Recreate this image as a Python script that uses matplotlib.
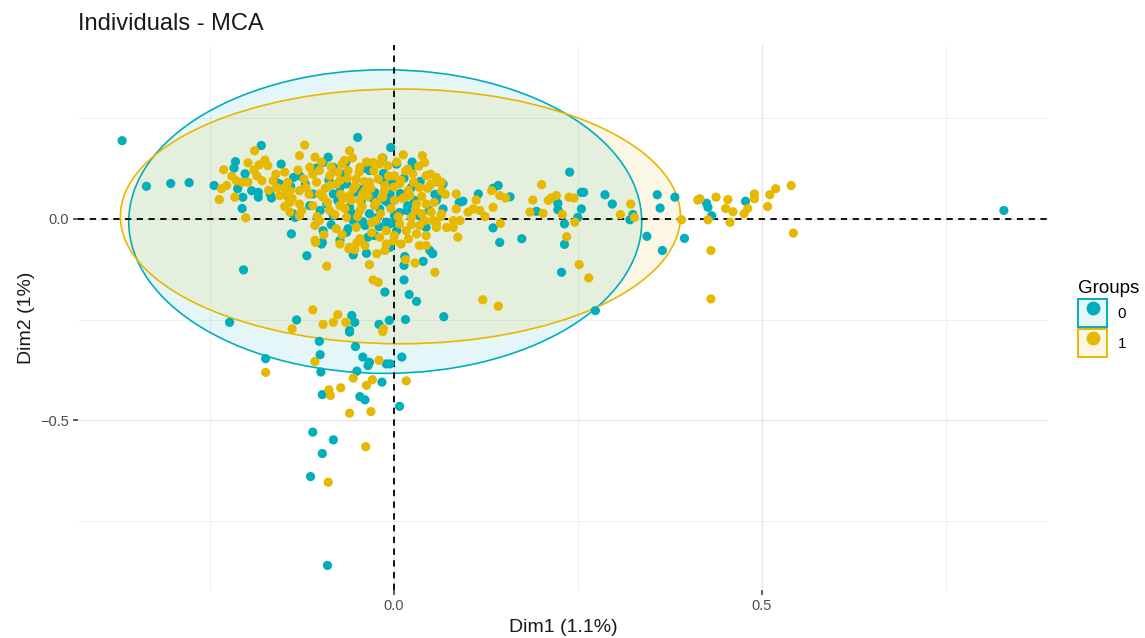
import matplotlib.pyplot as plt
from matplotlib.colors import to_rgb
from matplotlib.patches import Ellipse, Patch
from matplotlib.lines import Line2D
from matplotlib.legend_handler import HandlerTuple

plt.rcParams['font.family'] = ['Liberation Sans', 'DejaVu Sans']

TEAL = "#00AFBB"
GOLD = "#E7B800"

# individual coordinates on the first two MCA dimensions, group "0"
grp0_x = [-0.369, -0.336, -0.303, -0.278, 0.829, -0.090, -0.110, -0.082, -0.097, -0.113,
          -0.060, -0.101, -0.052, -0.174, -0.100, -0.099, -0.042, -0.033, -0.035, -0.010,
          -0.005, 0.011, -0.050, -0.016, -0.097, -0.046, -0.039, 0.008, -0.139, -0.118,
          -0.204, -0.097, -0.055, -0.037, -0.005, -0.012, -0.132, -0.057, -0.053, -0.060,
          -0.020, -0.006, 0.016, -0.223, 0.014, 0.014, 0.021, 0.031, 0.040, 0.053,
          0.068, 0.015, 0.049, 0.239, 0.142, 0.135, 0.158, 0.115, 0.089, 0.094,
          0.135, 0.144, 0.174, 0.194, 0.223, 0.223, 0.232, 0.255, 0.258, 0.255,
          0.250, 0.232, 0.228, 0.274, 0.287, 0.297, 0.325, 0.321, 0.358, 0.362,
          0.382, 0.344, 0.365, 0.395, 0.425, 0.427, 0.432, 0.478, -0.180, -0.244,
          -0.215, -0.217, -0.153, -0.136, -0.202, -0.212, -0.193, -0.184, -0.168, -0.155,
          -0.141, -0.205, -0.184, -0.166, -0.206, -0.134, -0.049, -0.004, -0.089, -0.096,
          -0.082, -0.033, 0.004, 0.067, 0.063, 0.024, -0.015, -0.064, -0.148, -0.110,
          -0.082, -0.053, -0.026, -0.005, 0.019, 0.058, 0.067, -0.010, -0.005, -0.033,
          -0.060, -0.091, -0.137, -0.096, -0.064, -0.035, -0.098, 0.044, -0.033, -0.073,
          -0.128, -0.044, -0.019, -0.082, -0.055, 0.023, 0.065, 0.001, 0.008, -0.012,
          -0.039, -0.073, 0.035, -0.114, -0.026,
          -0.120, -0.105, -0.088, -0.076, -0.068, -0.058, -0.045, -0.040, -0.028, -0.022,
          -0.014, -0.008, -0.002, 0.003, 0.009, 0.014, 0.018, 0.028, 0.036, 0.048,
          0.056, -0.100, -0.085, -0.062, -0.042, -0.020, 0.004, -0.140, -0.160, -0.015,
          -0.065, 0.025]
grp0_y = [0.193, 0.080, 0.087, 0.089, 0.020, -0.859, -0.529, -0.548, -0.582, -0.639,
          -0.281, -0.304, -0.317, -0.347, -0.337, -0.380, -0.343, -0.356, -0.364, -0.360,
          -0.360, -0.343, -0.378, -0.405, -0.436, -0.441, -0.449, -0.465, -0.038, -0.092,
          -0.127, -0.059, -0.090, -0.086, -0.071, -0.182, -0.251, -0.240, -0.257, -0.277,
          -0.262, -0.252, -0.250, -0.257, -0.116, -0.152, -0.188, -0.205, -0.106, -0.087,
          -0.243, -0.094, -0.079, 0.115, 0.082, 0.075, 0.054, 0.061, 0.040, 0.043,
          -0.023, -0.059, -0.050, 0.018, 0.038, 0.022, -0.013, 0.065, 0.065, 0.024,
          0.003, -0.064, -0.133, -0.228, 0.059, 0.036, 0.010, -0.003, 0.059, 0.026,
          0.053, -0.044, -0.079, -0.049, 0.038, 0.028, 0.007, 0.043, 0.181, 0.082,
          0.141, 0.125, 0.135, 0.102, 0.111, 0.074, 0.069, 0.065, 0.061, 0.086,
          0.045, 0.053, 0.053, 0.051, 0.025, 0.003, 0.201, 0.176, 0.152, 0.139,
          0.127, 0.135, 0.135, 0.086, 0.061, 0.077, 0.094, 0.086, 0.077, 0.061,
          0.061, 0.065, 0.065, 0.061, 0.032, 0.045, 0.024, -0.009, -0.013, 0.012,
          0.028, 0.036, 0.012, -0.030, -0.034, -0.046, -0.063, -0.022, 0.119, 0.077,
          0.106, 0.045, 0.024, 0.007, -0.005, 0.123, 0.065, 0.007, 0.015, 0.045,
          -0.017, -0.054, 0.007, 0.032, -0.042,
          0.085, 0.125, 0.095, 0.045, 0.110, 0.015, 0.072, 0.125, 0.050, 0.003,
          0.112, 0.040, 0.088, -0.005, 0.062, 0.100, 0.020, 0.045, 0.092, 0.020,
          0.060, 0.020, -0.015, -0.025, -0.008, -0.020, -0.030, 0.080, 0.090, 0.150,
          0.140, 0.140]

# group "1"
grp1_x = [-0.015, -0.174, -0.107, -0.020, -0.055, -0.029, -0.037, 0.017, -0.072, -0.088,
          -0.086, -0.060, -0.031, -0.038, -0.089, -0.091, -0.106, -0.073, -0.061, -0.053,
          -0.023, -0.033, -0.012, -0.028, -0.021, -0.110, -0.138, -0.096, -0.082, -0.076,
          -0.065, -0.014, 0.029, 0.056, 0.016, 0.035, 0.044, 0.010, 0.058, 0.201,
          0.133, 0.144, 0.152, 0.112, 0.085, 0.135, 0.108, 0.101, 0.117, 0.124,
          0.090, 0.081, 0.087, 0.145, 0.189, 0.185, 0.203, 0.210, 0.221, 0.214,
          0.229, 0.238, 0.245, 0.246, 0.235, 0.252, 0.265, 0.121, 0.142, 0.308,
          0.322, 0.327, 0.391, 0.413, 0.540, 0.519, 0.511, 0.508, 0.490, 0.490,
          0.481, 0.476, 0.461, 0.454, 0.451, 0.457, 0.438, 0.427, 0.416, 0.543,
          0.431, 0.431, 0.065, 0.049, 0.085, 0.081, 0.065, 0.013, 0.039, 0.042,
          -0.237, -0.231, -0.198, -0.183, -0.171, -0.148, -0.186, -0.214, -0.206, -0.198,
          -0.227, -0.234, -0.164, -0.159, -0.148, -0.141, -0.216, -0.146, -0.148, -0.141,
          -0.201, -0.121, -0.107, -0.067, -0.114, -0.101, -0.076, -0.062, -0.046, -0.028,
          -0.019, -0.008, 0.019, 0.026, 0.044, 0.058, 0.065, 0.051, 0.035, 0.008,
          -0.033, -0.051, -0.087, -0.105, -0.119, -0.144, -0.096, -0.069, -0.042, -0.015,
          0.001, 0.015, 0.031, 0.044, 0.051, 0.038, 0.024, 0.008, -0.024, -0.046,
          -0.073, -0.110, -0.128, -0.141, -0.101, -0.078, -0.051, -0.046, -0.019, -0.010,
          -0.107, -0.060, 0.031, 0.044, 0.058, 0.072, 0.017, 0.053, -0.055, -0.128,
          -0.101, -0.087, -0.064, -0.039, 0.001, -0.026, -0.060, 0.022, -0.073, -0.046,
          -0.128, -0.087, -0.012, 0.035, 0.001, -0.039, -0.107, -0.155, -0.179, -0.189,
          -0.128, -0.060,
          -0.130, -0.122, -0.115, -0.110, -0.098, -0.093, -0.090, -0.085, -0.080, -0.078,
          -0.072, -0.070, -0.066, -0.063, -0.058, -0.056, -0.052, -0.049, -0.047, -0.043,
          -0.040, -0.037, -0.035, -0.031, -0.030, -0.027, -0.024, -0.021, -0.018, -0.016,
          -0.013, -0.010, -0.007, -0.004, 0.000, 0.004, 0.006, 0.010, 0.012, 0.016,
          0.020, 0.024, 0.027, 0.030, 0.034, 0.038, 0.042, 0.046, 0.050, 0.055,
          0.060, 0.064, 0.070, -0.138, -0.125, -0.104, -0.095, -0.070, -0.050, -0.030,
          0.000, 0.020, -0.160, -0.170, -0.190, -0.220, -0.175]
grp1_y = [-0.280, -0.381, -0.354, -0.351, -0.395, -0.399, -0.413, -0.402, -0.419, -0.424,
          -0.438, -0.482, -0.478, -0.565, -0.653, -0.118, -0.059, -0.063, -0.075, -0.077,
          -0.087, -0.114, -0.079, -0.152, -0.158, -0.226, -0.273, -0.262, -0.257, -0.238,
          -0.257, -0.273, -0.110, -0.133, -0.102, -0.067, -0.067, -0.063, -0.013, 0.084,
          0.069, 0.057, 0.051, 0.046, 0.061, 0.028, 0.024, 0.016, 0.020, 0.005,
          -0.005, -0.022, -0.046, -0.012, 0.046, 0.016, 0.013, 0.045, 0.057, 0.051,
          0.010, 0.053, 0.051, -0.009, -0.045, -0.114, -0.147, -0.201, -0.217, 0.010,
          0.036, 0.003, -0.003, 0.046, 0.082, 0.074, 0.059, 0.030, 0.061, 0.049,
          0.025, 0.012, 0.017, 0.047, 0.025, -0.009, 0.053, -0.003, 0.049, -0.036,
          -0.079, -0.199, 0.090, 0.082, 0.024, -0.005, 0.012, 0.158, 0.156, 0.139,
          0.047, 0.121, 0.138, 0.133, 0.131, 0.115, 0.106, 0.094, 0.090, 0.090,
          0.082, 0.074, 0.094, 0.077, 0.077, 0.069, 0.053, 0.057, 0.030, 0.016,
          0.002, 0.182, 0.152, 0.144, 0.127, 0.119, 0.115, 0.119, 0.127, 0.139,
          0.135, 0.131, 0.123, 0.111, 0.106, 0.102, 0.069, 0.086, 0.077, 0.086,
          0.090, 0.098, 0.082, 0.090, 0.077, 0.090, 0.053, 0.049, 0.061, 0.053,
          0.045, 0.053, 0.036, 0.036, 0.016, 0.012, 0.003, -0.013, -0.005, 0.020,
          0.032, 0.032, 0.036, 0.040, -0.005, -0.025, -0.022, -0.050, -0.046, -0.063,
          -0.054, -0.071, -0.038, -0.042, -0.022, -0.022, -0.030, -0.005, 0.074, 0.069,
          0.061, 0.020, 0.003, 0.069, 0.106, 0.032, 0.057, 0.057, 0.094, 0.045,
          0.007, 0.106, 0.082, -0.017, -0.042, -0.067, -0.017, 0.057, 0.094, 0.168,
          0.156, 0.168,
          0.120, 0.098, 0.060, 0.110, 0.140, 0.075, 0.040, 0.128, 0.010, 0.085,
          0.060, 0.135, 0.025, 0.100, 0.045, 0.150, 0.082, 0.005, 0.115, 0.030,
          0.092, 0.140, 0.055, 0.075, -0.010, 0.118, 0.040, 0.098, 0.012, 0.150,
          0.068, -0.030, 0.105, 0.025, 0.078, 0.140, 0.005, 0.095, 0.050, 0.118,
          0.070, -0.015, 0.090, 0.020, 0.130, 0.055, -0.005, 0.075, 0.110, 0.040,
          0.090, 0.005, 0.060, 0.050, 0.020, 0.005, -0.040, -0.040, -0.060, -0.035,
          -0.055, -0.050, 0.110, 0.070, 0.120, 0.105, 0.145]

# concentration ellipses: centre, full width, full height
ell0 = dict(center=(-0.0115, -0.0074), width=0.697, height=0.752)
ell1 = dict(center=(0.0091, 0.0054), width=0.761, height=0.631)

group_labels = ["0", "1"]

fig = plt.figure(figsize=(11.45, 6.38), dpi=100)
ax = fig.add_axes([0.0681, 0.0752, 0.8472, 0.8543])

ax.set_xlim(-0.429, 0.889)
ax.set_ylim(-0.92, 0.43)
ax.set_xticks([0.0, 0.5])
ax.set_yticks([-0.5, 0.0])
ax.set_xticks([-0.25, 0.25, 0.75], minor=True)
ax.set_yticks([-0.75, -0.25, 0.25], minor=True)
ax.set_xticklabels(["0.0", "0.5"])
ax.set_yticklabels(["\u22120.5", "0.0"])
ax.grid(which="major", color="#e6e6e6", linewidth=0.9)
ax.grid(which="minor", color="#ececec", linewidth=0.6)
ax.set_axisbelow(True)
for s in ax.spines.values():
    s.set_visible(False)
ax.tick_params(which="major", length=3.5, width=1.1, color="#333333",
               labelcolor="#4d4d4d", labelsize=10.5, pad=3)
ax.tick_params(which="minor", length=0)

# ellipses (fill then outline)
for e, c in [(ell0, TEAL), (ell1, GOLD)]:
    ax.add_patch(Ellipse(e["center"], e["width"], e["height"],
                         facecolor=c, alpha=0.1, edgecolor="none", zorder=1))
    ax.add_patch(Ellipse(e["center"], e["width"], e["height"],
                         facecolor="none", edgecolor=c, linewidth=1.2, zorder=1.5))

ax.axhline(0, color="black", linestyle=(0, (3.5, 3)), linewidth=1.3, zorder=2)
ax.axvline(0, color="black", linestyle=(0, (3.5, 3)), linewidth=1.3, zorder=2)

ax.scatter(grp0_x, grp0_y, s=44, color=TEAL, edgecolors="none", zorder=3)
ax.scatter(grp1_x, grp1_y, s=44, color=GOLD, edgecolors="none", zorder=3)

ax.set_xlabel("Dim1 (1.1%)", fontsize=14, color="#1a1a1a", labelpad=4)
ax.set_ylabel("Dim2 (1%)", fontsize=14, color="#1a1a1a", labelpad=4)
fig.text(0.0681, 0.963, "Individuals - MCA", fontsize=17, color="#1a1a1a",
         ha="left", va="center")

handles = []
for c in [TEAL, GOLD]:
    box = Patch(facecolor=(*to_rgb(c), 0.1), edgecolor=c, linewidth=1.4)
    dot = Line2D([], [], marker="o", linestyle="none", markersize=10,
                 markerfacecolor=c, markeredgecolor="none")
    handles.append((box, dot))
leg = fig.legend(handles, group_labels, title="Groups", loc="upper left",
                 bbox_to_anchor=(1078 / 1145, 1 - 280 / 638), frameon=False,
                 handler_map={tuple: HandlerTuple(ndivide=1, pad=0)},
                 handlelength=1.9, handleheight=2.45, handletextpad=0.7,
                 labelspacing=0.13, borderpad=0, borderaxespad=0,
                 fontsize=11, title_fontsize=13.5)
leg._legend_box.align = "left"

fig.savefig("out.png", dpi=100)
